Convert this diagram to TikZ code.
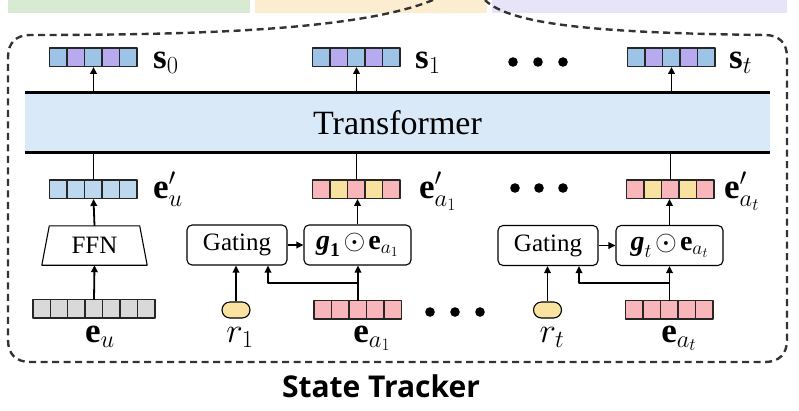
\RequirePackage{fix-cm}
\documentclass[tikz,border=0pt]{standalone}
\usepackage{amsmath}
\usepackage{fontspec}
\newfontfamily\tnr{Liberation Serif}
\newfontfamily\osans{Open Sans}
\newcommand\bv[1]{\mathord{\text{\tnr\bfseries #1}}}
\newcommand\bvi[1]{\mathord{\text{\tnr\bfseries\itshape #1}}}
\usetikzlibrary{calc,arrows.meta}
\definecolor{sblue}{HTML}{9DC3E6}
\definecolor{spurp}{HTML}{B7AAEE}
\definecolor{eblue}{HTML}{BDD7EE}
\definecolor{epink}{HTML}{F9B6BA}
\definecolor{eyel}{HTML}{F9E1A0}
\definecolor{egray}{HTML}{D9D9D9}
\definecolor{tfill}{HTML}{DAE9F8}
\definecolor{tgreen}{HTML}{D9EAD3}
\definecolor{tyel}{HTML}{FDEDD0}
\definecolor{tlav}{HTML}{E7E3F8}
\definecolor{bordercol}{HTML}{333333}
\definecolor{rfill}{HTML}{FAE3A0}
\newcommand\cellrow[4]{%
  \foreach \c [count=\i from 0] in {#4} {\draw[cellst, fill=\c] ($(#1.north west)+(\i*#2,0)$) rectangle ++(#2,#3);}}
\tikzset{
  cellst/.style={line width=1.4pt, draw=black!85},
  vecnode/.style={inner sep=0, minimum width=87.5, minimum height=18.5},
  arr/.style={-{Triangle[length=7pt,width=6.5pt]}, line width=1.8pt},
  ln/.style={line width=1.8pt},
  gbox/.style={draw, rounded corners=5, line width=1.1pt, inner sep=0, minimum height=40,
    font=\tnr\fontsize{25}{28}\selectfont},
  lab/.style={inner sep=0, font=\fontsize{35}{38}\selectfont},
}
\begin{document}
\begin{tikzpicture}[x=1pt,y=-1pt,line join=round]
\useasboundingbox (0,0) rectangle (799,410);
% top boxes
\fill[tgreen] (8,0) rectangle (250,12.5);
\fill[tyel] (255,0) rectangle (487,12.5);
\fill[tlav] (492,0) rectangle (787,12.5);
% dashed outline
\draw[bordercol, line width=2.4pt, dash pattern=on 7pt off 4.5pt]
  (433,0) .. controls (360,30) and (200,35) .. (30,35)
  .. controls (16,35) and (8,43) .. (8,57) -- (8,340)
  .. controls (8,354) and (16,362) .. (30,362) -- (765,362)
  .. controls (779,362) and (787,354) .. (787,340) -- (787,57)
  .. controls (787,43) and (779,35) .. (765,35)
  .. controls (600,33) and (510,25) .. (485,0);
% transformer
\node[fill=tfill, minimum width=745, minimum height=59, inner sep=0,
  font=\tnr\fontsize{34}{38}\selectfont] (tf) at (397.5,122.5) {Transformer};
\draw[line width=3pt] (tf.north west) -- (tf.north east);
\draw[line width=3pt] (tf.south west) -- (tf.south east);
% output vectors
\node[vecnode] (s0) at (93.5,57.5) {};
\node[vecnode] (s1) at (356.5,57.5) {};
\node[vecnode] (st) at (671.5,57.5) {};
\cellrow{s0}{17.5}{18.5}{sblue,spurp,sblue,spurp,sblue}
\cellrow{s1}{17.5}{18.5}{sblue,spurp,sblue,spurp,sblue}
\cellrow{st}{17.5}{18.5}{sblue,spurp,sblue,spurp,sblue}
\draw[arr] (s0.south |- tf.north) -- (s0.south);
\draw[arr] (s1.south |- tf.north) -- (s1.south);
\draw[arr] (st.south |- tf.north) -- (st.south);
% e' vectors
\node[vecnode] (eup) at (93.5,189.5) {};
\node[vecnode] (ea1p) at (356.5,189.5) {};
\node[vecnode] (eatp) at (670.5,189.5) {};
\cellrow{eup}{17.5}{18.5}{eblue,eblue,eblue,eblue,eblue}
\cellrow{ea1p}{17.5}{18.5}{epink,eyel,epink,eyel,epink}
\cellrow{eatp}{17.5}{18.5}{epink,eyel,epink,eyel,epink}
\draw[ln] (eup.north |- tf.south) -- (eup.north);
\draw[ln] (ea1p.north |- tf.south) -- (ea1p.north);
\draw[ln] (eatp.north |- tf.south) -- (eatp.north);
% FFN
\node[inner sep=0, minimum width=105, minimum height=39, font=\tnr\fontsize{25}{28}\selectfont] (ffn) at (94.5,245.5) {FFN};
\draw[line width=1.1pt] (ffn.south west) -- ($(ffn.north west)+(7.5,0)$) -- ($(ffn.north east)+(-7.5,0)$) -- (ffn.south east) -- cycle;
% input vectors
\node[vecnode, minimum width=122] (eu) at (94,309) {};
\cellrow{eu}{17.43}{18.5}{egray,egray,egray,egray,egray,egray,egray}
\node[vecnode] (ea1) at (358,310) {};
\node[vecnode] (eat) at (669.5,310) {};
\cellrow{ea1}{17.5}{18.5}{epink,epink,epink,epink,epink}
\cellrow{eat}{17.5}{18.5}{epink,epink,epink,epink,epink}
\draw[arr] (eu.north) -- (ffn.south);
\draw[arr] (ffn.north) -- (eup.south);
% gating
\node[gbox, minimum width=100] (gate1) at (237,245) {Gating};
\node[gbox, minimum width=107, font=\fontsize{28}{32}\selectfont] (g1) at (357.5,245) {$\bvi{g}_{\bv{1}}\mkern2mu{\odot}\mkern2mu\bv{e}_{a_1}$};
\node[gbox, minimum width=100] (gate2) at (548,245.5) {Gating};
\node[gbox, minimum width=107, font=\fontsize{28}{32}\selectfont] (gt) at (669.5,245.5) {$\bvi{g}_{t}\mkern2mu{\odot}\mkern2mu\bv{e}_{a_t}$};
\draw[arr] (gate1.east) -- (g1.west);
\draw[arr] (gate2.east) -- (gt.west);
\draw[arr] (g1.north) -- (g1.north |- ea1p.south);
\draw[arr] (gt.north) -- (gt.north |- eatp.south);
% r nodes
\node[draw, fill=rfill, rounded corners=8, line width=1.1pt, minimum width=28, minimum height=16, inner sep=0] (r1) at (236,310) {};
\node[draw, fill=rfill, rounded corners=8, line width=1.1pt, minimum width=28, minimum height=16, inner sep=0] (rt) at (547.5,310) {};
\draw[arr] (r1.north) -- (r1.north |- gate1.south);
\draw[arr] (rt.north) -- (rt.north |- gate2.south);
\draw[arr] (ea1.north) -- (ea1.north |- g1.south);
\draw[arr] (eat.north) -- (eat.north |- gt.south);
\coordinate (k1) at (268,283);
\coordinate (kt) at (579,283);
\draw[arr] (ea1.north |- k1) -- (k1) -- (k1 |- gate1.south);
\draw[arr] (eat.north |- kt) -- (kt) -- (kt |- gate2.south);
% dots
\foreach \x in {513,538,563} \fill (\x,62) circle (4.8);
\foreach \x in {515,539,563} \fill (\x,188) circle (4.8);
\foreach \x in {430,455,480} \fill (\x,312) circle (4.8);
% labels
\node[lab, anchor=base west] (ls0) at (153,68) {$\bv{s}_0$};
\node[lab, anchor=base west] (ls1) at (415,68) {$\bv{s}_1$};
\node[lab, anchor=base west] (lst) at (729,68) {$\bv{s}_t$};
\node[lab, anchor=base west] (leup) at (153,198) {$\bv{e}'_u$};
\node[lab, anchor=base west] (lea1p) at (419,198) {$\bv{e}'_{a_1}$};
\node[lab, anchor=base west] (leatp) at (724,198) {$\bv{e}'_{a_t}$};
\node[lab, anchor=base] (leu) at (100,342) {$\bv{e}_u$};
\node[lab, anchor=base] (lr1) at (240,342) {$r_1$};
\node[lab, anchor=base] (lea1) at (372,342) {$\bv{e}_{a_1}$};
\node[lab, anchor=base] (lrt) at (552,342) {$r_t$};
\node[lab, anchor=base] (leat) at (679,342) {$\bv{e}_{a_t}$};
\node[inner sep=0, anchor=base, font=\osans\bfseries\fontsize{30}{34}\selectfont] (title) at (381,397) {State Tracker};
\end{tikzpicture}
\end{document}
